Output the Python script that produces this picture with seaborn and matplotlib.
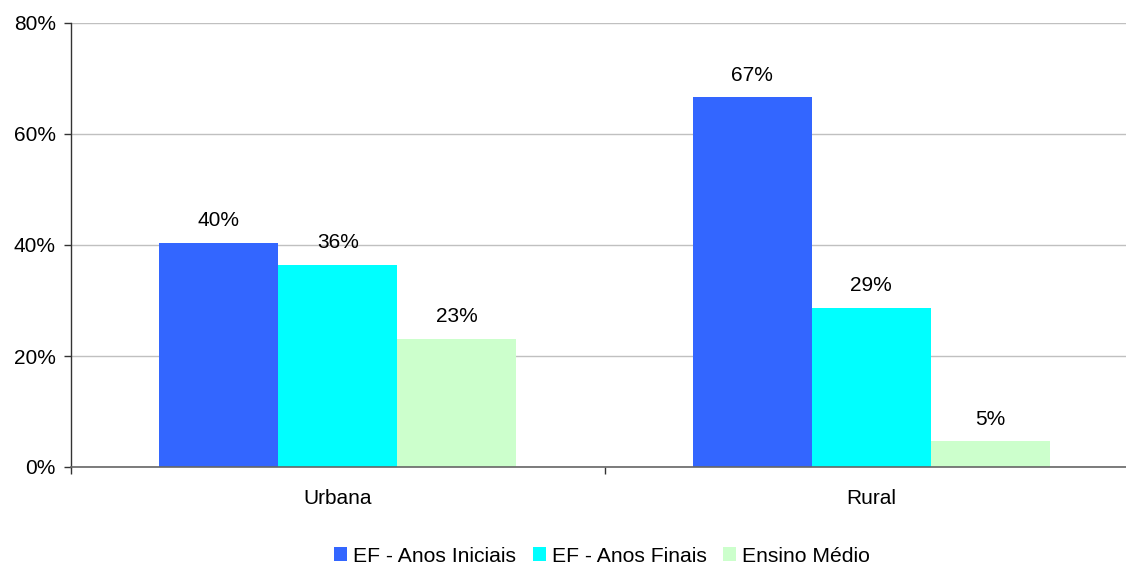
import matplotlib
matplotlib.use("Agg")
import matplotlib.pyplot as plt
import seaborn as sns
import pandas as pd

# Share of enrolments by school location and education stage (%)
locations = ["Urbana", "Rural"]
stages = ["EF - Anos Iniciais", "EF - Anos Finais", "Ensino Médio"]
urbana_values = [40.4, 36.4, 23.1]
rural_values = [66.6, 28.7, 4.6]
stage_colors = ["#3366FF", "#00FFFF", "#CCFFCC"]
y_ticks = [0, 20, 40, 60, 80]

sns.set_theme(style="white")
plt.rcParams["font.family"] = ["Liberation Sans", "DejaVu Sans"]
plt.rcParams["text.color"] = "#000000"

df = pd.DataFrame({
    "Localização": [loc for loc in locations for _ in stages],
    "Etapa": stages * len(locations),
    "Percentual": urbana_values + rural_values,
})

W, H = 1126, 564
fig = plt.figure(figsize=(W / 100, H / 100), dpi=100)
ax = fig.add_axes([71 / W, 97 / H, (1138 - 71) / W, 444 / H])

sns.barplot(
    data=df, x="Localização", y="Percentual", hue="Etapa",
    order=locations, hue_order=stages, palette=stage_colors,
    saturation=1, width=0.67, errorbar=None, ax=ax, linewidth=0,
)

ax.set_xlim(-0.5, 1.5)
ax.set_ylim(0, 80)
ax.set_yticks(y_ticks)
ax.set_yticklabels([f"{v}%" for v in y_ticks])
ax.yaxis.grid(True, color="#C0C0C0", linewidth=1)
ax.set_axisbelow(True)
ax.set_xlabel("")
ax.set_ylabel("")

# Category separators on the x axis
ax.set_xticks([-0.5, 0.5, 1.5], minor=True)
ax.tick_params(axis="x", which="minor", length=5, width=1, color="#333333",
               direction="out", bottom=True)
ax.tick_params(axis="x", which="major", length=0, pad=16, labelsize=15,
               labelcolor="#000000")
ax.tick_params(axis="y", length=5, width=1, color="#333333", direction="out",
               left=True, pad=6, labelsize=15, labelcolor="#000000")

for side in ["top", "right"]:
    ax.spines[side].set_visible(False)
ax.spines["left"].set_color("#333333")
ax.spines["bottom"].set_color("#666666")
ax.spines["left"].set_linewidth(1)
ax.spines["bottom"].set_linewidth(1.2)

for container in ax.containers:
    vals = [bar.get_height() for bar in container]
    ax.bar_label(container, labels=[f"{v:.0f}%" for v in vals],
                 padding=9, fontsize=15, color="#000000")

handles, labels = ax.get_legend_handles_labels()
ax.get_legend().remove()
leg = fig.legend(handles, labels, loc="center", bbox_to_anchor=(602 / W, 1 - 556 / H),
                 ncol=3, frameon=False, fontsize=15.2, handlelength=0.62,
                 handleheight=0.62, handletextpad=0.29, columnspacing=0.77,
                 borderaxespad=0, borderpad=0)
for t in leg.get_texts():
    t.set_color("#000000")

fig.savefig("out.png", dpi=100)
